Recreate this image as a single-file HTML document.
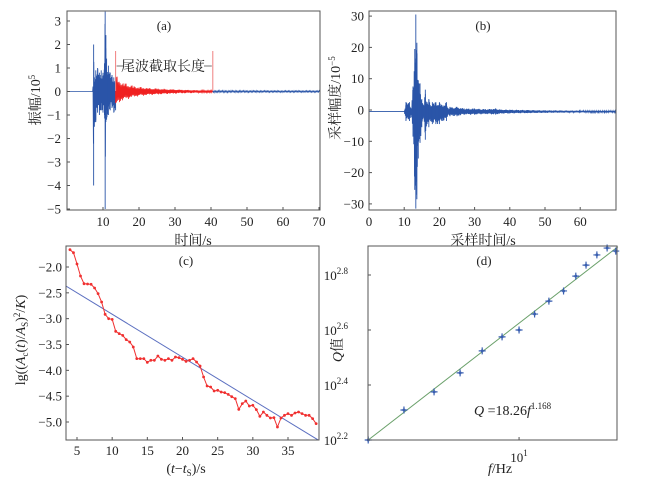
<!DOCTYPE html>
<html><head><meta charset="utf-8"><style>
html,body{margin:0;padding:0;background:#fff;width:651px;height:480px;overflow:hidden}
svg{display:block}
text{font-family:"Liberation Serif","Noto Serif CJK SC","Noto Sans CJK SC",serif;fill:#222}
</style></head><body>
<svg id="fig" width="651" height="480" viewBox="0 0 651 480"></svg>
<script>
// ---- Panel (a) data: envelope of seismogram (10^5)
const aTimes=[0,7.2,7.4,7.6,8,8.5,9,9.5,10,10.4,10.6,10.8,11,11.5,12,12.5,13,13.5];
const aUpper=[0,0,2.0,0.6,0.9,1.0,0.8,0.9,0.8,1.2,3.4,2.4,1.4,1.1,0.8,0.7,0.6,0.6];
const aLower=[0,0,-4.0,-1.5,-1.3,-0.9,-1.0,-0.8,-0.9,-1.0,-5.0,-1.3,-1.2,-1.0,-0.8,-0.7,-0.9,-0.8];
const redTimes=[13.5,14.5,15.5,16.5,17.5,18.5,19.5,20.5,21.5,22.5,23.5,24.5,25.5,26.5,27.5,28.5,29.5,30.5,31.5,32.5,33.5,34.5,35.5,36.5,37.5,38.5,39.5,40.5];
const redAmp=[0.75,0.5,0.4,0.35,0.3,0.25,0.22,0.2,0.18,0.16,0.15,0.14,0.13,0.12,0.11,0.1,0.1,0.09,0.08,0.08,0.07,0.07,0.06,0.06,0.05,0.05,0.05,0.05];
const tailTimes=[40.5,55,70];
const tailAmp=[0.05,0.04,0.04];
const aXTicks=[10,20,30,40,50,60,70];
const aYTicks=[-5,-4,-3,-2,-1,0,1,2,3];
const windowStart=13.5, windowEnd=40.5;
// ---- Panel (b) data (10^-5)
const bTimes=[0,10,10.5,11.5,12,12.5,13,13.3,13.6,14,14.5,15,15.5,16,16.5,17,17.5,18,19,20,21,22,22.5,23,25,27,30,33,36,37,40,45,50,60,70];
const bUpper=[0,0,3,3,1,8,20,31,22,10,9,4,2,7,3,4,2,3,3,3,2,3,1,1.5,1.5,1,1,0.8,1,0.7,0.6,0.5,0.4,0.3,0.3];
const bLower=[0,0,-3,-3,-1,-8,-25,-31,-28,-15,-10,-5,-2,-9,-4,-5,-3,-4,-4,-4,-3,-3,-1,-1.5,-1.5,-1,-1,-0.8,-1,-0.7,-0.6,-0.5,-0.4,-0.3,-0.3];
const bXTicks=[0,10,20,30,40,50,60];
const bYTicks=[-30,-20,-10,0,10,20,30];
// ---- Panel (c) data
const cStart=4.0, cStep=0.5;
const cValues=[-1.665,-1.723,-1.942,-2.174,-2.323,-2.329,-2.335,-2.406,-2.516,-2.677,-2.916,-3.0,-3.013,-3.245,-3.29,-3.323,-3.406,-3.452,-3.548,-3.774,-3.774,-3.774,-3.845,-3.806,-3.806,-3.723,-3.787,-3.806,-3.774,-3.806,-3.742,-3.755,-3.787,-3.826,-3.806,-3.774,-3.839,-3.916,-4.129,-4.303,-4.323,-4.4,-4.387,-4.419,-4.432,-4.465,-4.51,-4.548,-4.755,-4.645,-4.594,-4.69,-4.677,-4.761,-4.89,-4.806,-4.871,-4.923,-4.916,-5.097,-4.923,-4.871,-4.839,-4.871,-4.826,-4.806,-4.839,-4.871,-4.871,-4.935,-5.032];
const cFitSlope=-0.0831, cFitIntercept=-2.083;
const cXTicks=[5,10,15,20,25,30,35];
const cYTicks=[-2.0,-2.5,-3.0,-3.5,-4.0,-4.5,-5.0];
// ---- Panel (d) data
const dFreq=[4.33,5.28,6.24,7.21,8.15,9.10,10.0,10.9,11.8,12.8,13.7,14.5,15.4,16.3,17.1];
const dLogQ=[2.2,2.309,2.375,2.444,2.524,2.575,2.6,2.658,2.705,2.742,2.796,2.836,2.873,2.898,2.887];
const dFitExp=1.168, dFitLogQ0=2.2, dFitF0=4.33;
const dYTicks=[2.2,2.4,2.6,2.8];

const NS='http://www.w3.org/2000/svg';
const svg=document.getElementById('fig');
function mk(tag,attrs,parent){const e=document.createElementNS(NS,tag);for(const k in attrs)e.setAttribute(k,attrs[k]);(parent||svg).appendChild(e);return e;}
function lin(d0,d1,r0,r1){return v=>r0+(v-d0)*(r1-r0)/(d1-d0);}
function interp(xs,ys,x){if(x<=xs[0])return ys[0];for(let i=1;i<xs.length;i++){if(x<=xs[i]){const f=(x-xs[i-1])/(xs[i]-xs[i-1]);return ys[i-1]+f*(ys[i]-ys[i-1]);}}return ys[ys.length-1];}
function txt(x,y,s,attrs,parent){const t=mk('text',Object.assign({x:x,y:y},attrs||{}),parent);t.textContent=s;return t;}
function frame(x0,y0,x1,y1,name){const r=mk('rect',{x:x0,y:y0,width:x1-x0,height:y1-y0,fill:'none',stroke:'#555','stroke-width':1});}
function jig(k){return 0.6+0.4*Math.abs(Math.sin(k*1.37)*Math.cos(k*0.53));}
// envelope spikes: full-amplitude strokes at each envelope knot
function spikes(parent,times,up,lo,X,Y,color,base){
  times.forEach((t,i)=>{if(up[i]===0&&lo[i]===0)return;mk('line',{x1:X(t),x2:X(t),y1:Y(up[i]+base),y2:Y(lo[i]+base),stroke:color,'stroke-width':0.9},parent);});
}

// ===== Panel (a)
{
const g=mk('g',{});
const X=lin(0,70,67,319), Y=lin(0,1,91.5,68);
const x0=67,x1=320,y0=11,y1=210;
const clip=mk('clipPath',{id:'ca'},g);mk('rect',{x:x0,y:y0,width:x1-x0,height:y1-y0},clip);
const w=mk('g',{'clip-path':'url(#ca)'},g);
let d='M'+x0+' '+Y(0);let k=0;
for(let px=X(0);px<=X(windowStart);px+=0.4){const t=(px-67)/3.6;const u=interp(aTimes,aUpper,t),l=interp(aTimes,aLower,t);const v=(k%2?u:l)*jig(k);d+=' L'+px.toFixed(1)+' '+Y(v).toFixed(1);k++;}
mk('path',{d:d,fill:'none',stroke:'#2a55a8','stroke-width':0.8},w);
spikes(w,aTimes,aUpper,aLower,X,Y,'#2a55a8',0);
let dr='M'+X(windowStart)+' '+Y(0);
for(let px=X(windowStart);px<=X(windowEnd);px+=0.5){const t=(px-67)/3.6;const a=interp(redTimes,redAmp,t);const v=(k%2?a:-a)*jig(k);dr+=' L'+px.toFixed(1)+' '+Y(v).toFixed(1);k++;}
const rp=mk('path',{d:dr,fill:'none',stroke:'#f02020','stroke-width':0.8},w);
let dt='M'+X(windowEnd)+' '+Y(0);
for(let px=X(windowEnd);px<=x1;px+=0.7){const t=(px-67)/3.6;const a=interp(tailTimes,tailAmp,t);dt+=' L'+px.toFixed(1)+' '+Y((k%2?a:-a)*jig(k)).toFixed(1);k++;}
mk('path',{d:dt,fill:'none',stroke:'#2a55a8','stroke-width':0.8},w);
const an=mk('g',{},g);
mk('line',{x1:X(windowStart),x2:X(windowStart),y1:51,y2:91,stroke:'#f08080','stroke-width':1},an);
mk('line',{x1:X(windowEnd),x2:X(windowEnd),y1:51,y2:91,stroke:'#f08080','stroke-width':1},an);
mk('line',{x1:X(windowStart)+1,x2:X(windowEnd)-1,y1:66,y2:66,stroke:'#444','stroke-width':0.8},an);
mk('rect',{x:123,y:57,width:81,height:17,fill:'#fff'},an);
txt(163,71,'尾波截取长度',{'text-anchor':'middle','font-size':14,'font-family':'"Noto Serif CJK SC","Noto Sans CJK SC",serif'},an);
frame(x0,y0,x1,y1,'plot-frame-a');
aXTicks.forEach(v=>{mk('line',{x1:X(v),x2:X(v),y1:y1,y2:y1-3,stroke:'#555'},g);const t=txt(X(v),226,String(v),{'text-anchor':'middle','font-size':13},g);});
aYTicks.forEach(v=>{mk('line',{x1:x0,x2:x0+3,y1:Y(v),y2:Y(v),stroke:'#555'},g);const t=txt(x0-6,Y(v)+4.5,(v<0?'−':'')+Math.abs(v),{'text-anchor':'end','font-size':13},g);});
txt(164,30,'(a)',{'text-anchor':'middle','font-size':13},g);
const xl=txt(193,245,'时间/s',{'text-anchor':'middle','font-size':14},g);
const yl=txt(0,0,'',{'font-size':14,'text-anchor':'middle',transform:'translate(40,100) rotate(-90)'},g);yl.innerHTML='振幅/10<tspan dy="-5" font-size="9">5</tspan>';
}
// ===== Panel (b)
{
const g=mk('g',{});
const x0=369,x1=616,y0=11,y1=210;
const X=lin(0,70,369,615.4), Y=lin(0,10,110,78.7);
const clip=mk('clipPath',{id:'cb'},g);mk('rect',{x:x0,y:y0,width:x1-x0,height:y1-y0},clip);
const w=mk('g',{'clip-path':'url(#cb)'},g);
let d='M'+x0+' '+Y(-0.5);let k=0;
for(let px=x0;px<=x1;px+=0.35){const t=(px-369)/3.52;const u=interp(bTimes,bUpper,t),l=interp(bTimes,bLower,t);const v=(k%2?u:l)*jig(k)-0.5;d+=' L'+px.toFixed(1)+' '+Y(v).toFixed(1);k++;}
mk('path',{d:d,fill:'none',stroke:'#2a55a8','stroke-width':0.9},w);
spikes(w,bTimes,bUpper,bLower,X,Y,'#2a55a8',-0.5);
frame(x0,y0,x1,y1,'plot-frame-b');
bXTicks.forEach(v=>{mk('line',{x1:X(v),x2:X(v),y1:y1,y2:y1-3,stroke:'#555'},g);const t=txt(X(v),226,String(v),{'text-anchor':'middle','font-size':13},g);});
bYTicks.forEach(v=>{mk('line',{x1:x0,x2:x0+3,y1:Y(v),y2:Y(v),stroke:'#555'},g);const t=txt(x0-5,Y(v)+4.5,(v<0?'−':'')+Math.abs(v),{'text-anchor':'end','font-size':13},g);});
txt(483,30,'(b)',{'text-anchor':'middle','font-size':13},g);
const xl=txt(483,245,'采样时间/s',{'text-anchor':'middle','font-size':14},g);
const yl=txt(0,0,'',{'font-size':14,'text-anchor':'middle',transform:'translate(340,98) rotate(-90)'},g);yl.innerHTML='采样幅度/10<tspan dy="-5" font-size="9">−5</tspan>';
}
// ===== Panel (c)
{
const g=mk('g',{});
const x0=66,x1=319,y0=246,y1=440;
const X=lin(5,35,77,288), Y=lin(-2,-5,267,422);
const clip=mk('clipPath',{id:'cc'},g);mk('rect',{x:x0,y:y0,width:x1-x0,height:y1-y0},clip);
const w=mk('g',{'clip-path':'url(#cc)'},g);
const tA=3.4,tB=39.4;
const fl=mk('line',{x1:X(tA),y1:Y(cFitIntercept+cFitSlope*tA),x2:X(tB),y2:Y(cFitIntercept+cFitSlope*tB),stroke:'#5b6fc0','stroke-width':1},w);

const pts=cValues.map((v,i)=>X(cStart+cStep*i).toFixed(1)+','+Y(v).toFixed(1)).join(' ');
const pl=mk('polyline',{points:pts,fill:'none',stroke:'#f03030','stroke-width':1},w);
cValues.forEach((v,i)=>{const c=mk('circle',{cx:X(cStart+cStep*i),cy:Y(v),r:1.4,fill:'#f03030'},w);});
frame(x0,y0,x1,y1,'plot-frame-c');
cXTicks.forEach(v=>{mk('line',{x1:X(v),x2:X(v),y1:y1,y2:y1-3,stroke:'#555'},g);const t=txt(X(v),455,String(v),{'text-anchor':'middle','font-size':13},g);});
cYTicks.forEach(v=>{mk('line',{x1:x0,x2:x0+3,y1:Y(v),y2:Y(v),stroke:'#555'},g);const t=txt(x0-4,Y(v)+4.5,'−'+Math.abs(v).toFixed(1),{'text-anchor':'end','font-size':13},g);});
txt(186,265,'(c)',{'text-anchor':'middle','font-size':13},g);
const xl=txt(186,473,'',{'text-anchor':'middle','font-size':14},g);xl.innerHTML='(<tspan font-style="italic">t</tspan>−<tspan font-style="italic">t</tspan><tspan font-size="9" dy="3">S</tspan><tspan dy="-3">)/s</tspan>';
const yl=txt(0,0,'',{'font-size':14,'text-anchor':'middle',transform:'translate(25,340) rotate(-90)'},g);yl.innerHTML='lg((<tspan font-style="italic">A</tspan><tspan font-size="9" dy="3">c</tspan><tspan dy="-3">(</tspan><tspan font-style="italic">t</tspan>)/<tspan font-style="italic">A</tspan><tspan font-size="9" dy="3">S</tspan><tspan dy="-3">)</tspan><tspan font-size="9" dy="-5">2</tspan><tspan dy="5">/</tspan><tspan font-style="italic">K</tspan>)';
}
// ===== Panel (d)
{
const g=mk('g',{});
const x0=368,x1=617,y0=246,y1=440;
const LX=lin(0.636,1.236,368,617), Y=lin(2.2,2.8,440,275);
const X=f=>LX(Math.log10(f));
const clip=mk('clipPath',{id:'cd'},g);mk('rect',{x:x0-4,y:y0-4,width:x1-x0+8,height:y1-y0+8},clip);
const w=mk('g',{'clip-path':'url(#cd)'},g);
const fA=dFitF0, fB=17.3;
const fit=f=>dFitLogQ0+dFitExp*(Math.log10(f)-Math.log10(dFitF0));
const fl=mk('line',{x1:X(fA),y1:Y(fit(fA)),x2:X(fB),y2:Y(fit(fB)),stroke:'#6aa06a','stroke-width':1},w);
dFreq.forEach((f,i)=>{const cx=X(f),cy=Y(dLogQ[i]);const p=mk('path',{d:`M${cx-3.5} ${cy}L${cx+3.5} ${cy}M${cx} ${cy-3.5}L${cx} ${cy+3.5}`,stroke:'#3a5fb0','stroke-width':1.2},w);mk('circle',{cx:cx,cy:cy,r:1.5,fill:'#3a5fb0'},w);});
frame(x0,y0,x1,y1,'plot-frame-d');
mk('line',{x1:X(10),x2:X(10),y1:y1,y2:y1-3,stroke:'#555'},g);
const xt=txt(X(10),462,'',{'text-anchor':'middle','font-size':13},g);xt.innerHTML='10<tspan font-size="9" dy="-6">1</tspan>';
dYTicks.forEach(v=>{mk('line',{x1:x0,x2:x0+3,y1:Y(v),y2:Y(v),stroke:'#555'},g);const t=txt(x0-20,Y(v)+5,'',{'text-anchor':'end','font-size':13},g);t.innerHTML='10<tspan font-size="9" dy="-6">'+v.toFixed(1)+'</tspan>';});
txt(484,265,'(d)',{'text-anchor':'middle','font-size':13},g);
const eq=txt(474,415,'',{'font-size':14},g);eq.innerHTML='<tspan font-style="italic">Q</tspan> =18.26<tspan font-style="italic">f</tspan><tspan font-size="9" dy="-6">1.168</tspan>';
const xl=txt(500,473,'',{'text-anchor':'middle','font-size':14},g);xl.innerHTML='<tspan font-style="italic">f</tspan>/Hz';
const yl=txt(0,0,'',{'font-size':14,'text-anchor':'middle',transform:'translate(342,350) rotate(-90)'},g);yl.innerHTML='<tspan font-style="italic">Q</tspan>值';
}
</script>
</body></html>
